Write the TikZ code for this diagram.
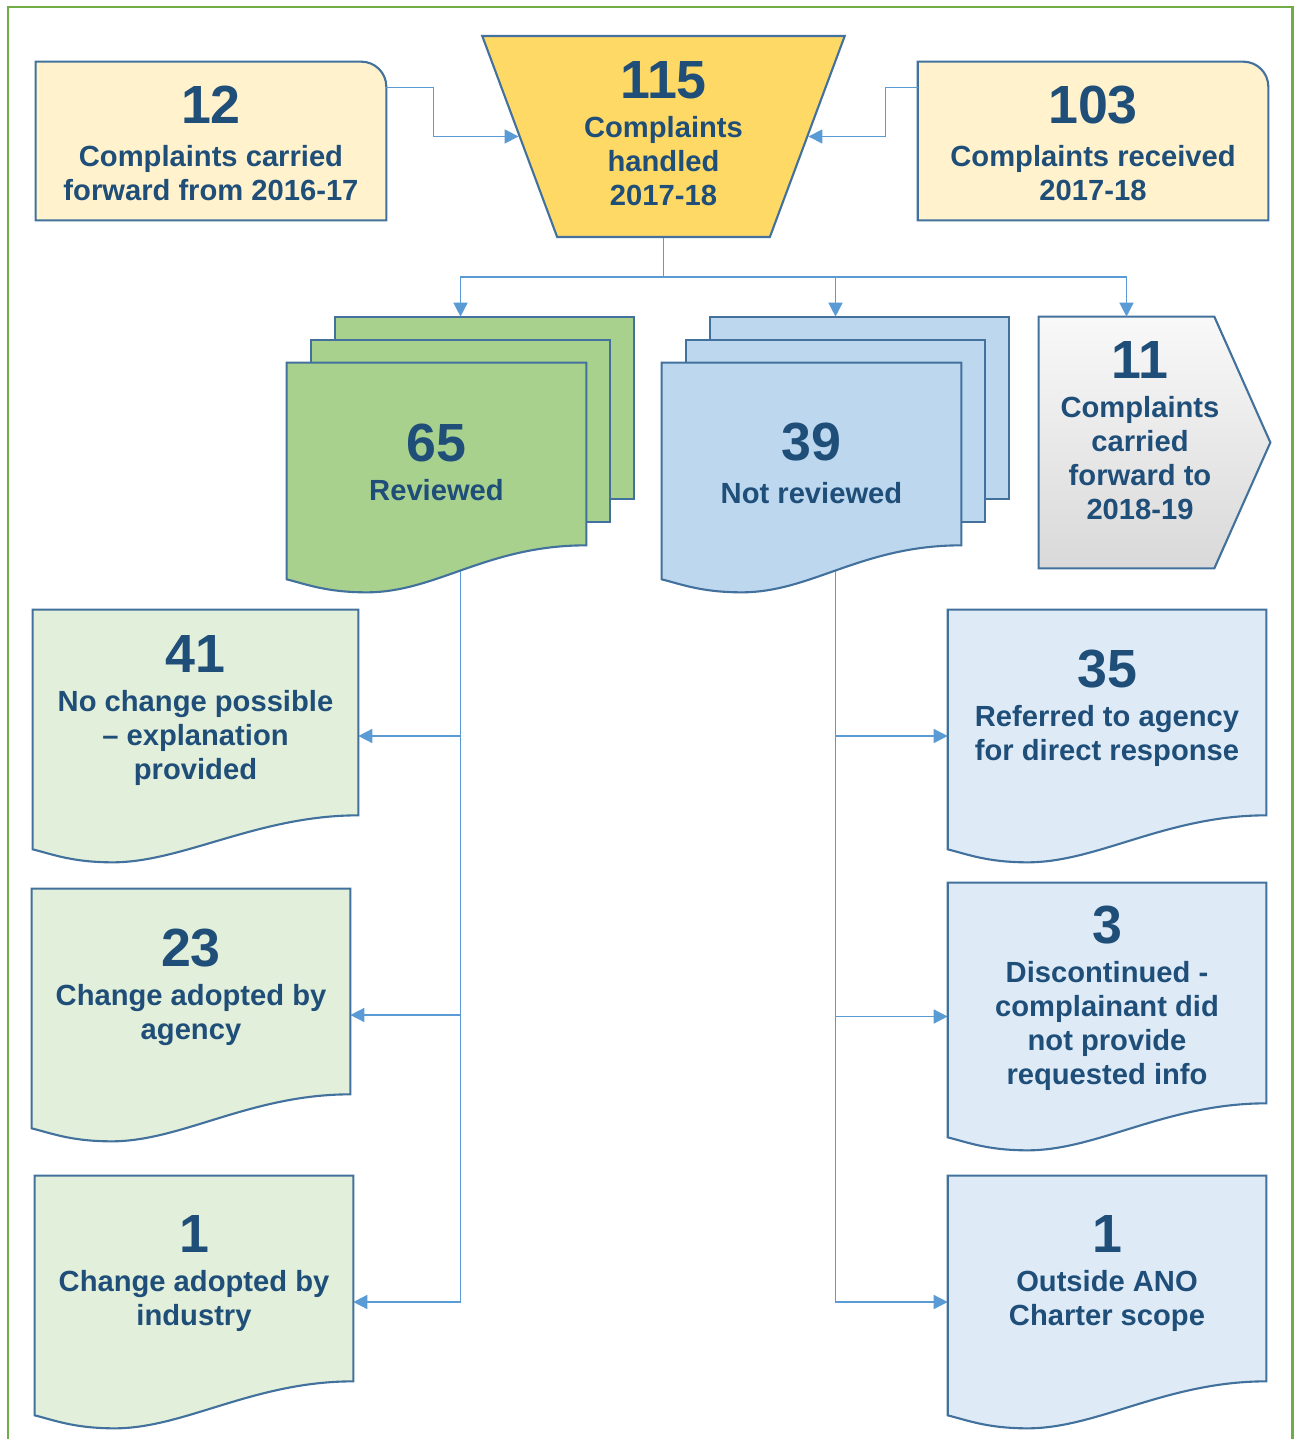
\documentclass[tikz,border=0pt]{standalone}
\usepackage{fontspec}
\setmainfont{Liberation Sans}
\usetikzlibrary{shapes.geometric,calc,backgrounds,arrows.meta}
\pgfdeclarelayer{lines}
\pgfsetlayers{lines,background,main}

\definecolor{inkblue}{HTML}{1F4E79}
\definecolor{edgeblue}{HTML}{41719C}
\definecolor{arrowblue}{HTML}{5B9BD5}
\definecolor{framegreen}{HTML}{70AD47}
\definecolor{cream}{HTML}{FFF2CC}
\definecolor{gold}{HTML}{FFD966}
\definecolor{midgreen}{HTML}{A9D18E}
\definecolor{palegreen}{HTML}{E2EFDA}
\definecolor{midblue}{HTML}{BDD7EE}
\definecolor{paleblue}{HTML}{DEEBF7}

\tikzset{
  txt/.style={align=center, text=inkblue, inner sep=0pt,
    font=\bfseries\fontsize{16.6}{19.3}\selectfont},
  sheet/.style={txt, minimum width=#1, minimum height=4.1cm},
  shapeline/.style={draw=edgeblue, line width=1.2pt},
  arr/.style={draw=arrowblue, line width=0.85pt, -{Triangle[length=8pt,width=8pt]}}
}
% big figure line; optional extra height on top pushes the text down
\newcommand\bignum[3][0pt]{{\fontsize{30.6}{30.6}\selectfont\rule{0pt}{\dimexpr21.9pt+#1\relax}#2}\\[#3]}
% extra depth under the last line pushes the text up
\newcommand\lowpad[1]{\rule[-#1]{0pt}{#1}}
% document outline (wavy bottom) hung on a node
\newcommand\docshape[2]{%
  \path[shapeline, fill=#2] (#1.north west) -- (#1.north east) -- (#1.south east)
    .. controls +(-100,0) and +(70,0) .. ($(#1.south west)+(80,47)$)
    .. controls +(-40,0) and +(20,5) .. ($(#1.south west)+(0,34)$) -- cycle;}
\newcommand\stackshape[2]{%
  \path[shapeline, fill=#2] ($(#1.south west)+(48,-46)$) rectangle ($(#1.north east)+(48,-46)$);
  \path[shapeline, fill=#2] ($(#1.south west)+(24,-23)$) rectangle ($(#1.north east)+(24,-23)$);
  \docshape{#1}{#2}}

\begin{document}
\begin{tikzpicture}[x=0.02cm, y=-0.02cm]
\useasboundingbox (0,0) rectangle (1295,1439);
\draw[framegreen, line width=1.7pt] (8,7) rectangle (1292,1460);

% top row
\node[txt, minimum width=7cm, minimum height=3.16cm] (cf) at (211,141)
  {\bignum[2pt]{12}{5pt}Complaints carried\\forward from 2016-17};
\node[txt, minimum width=7cm, minimum height=3.16cm] (rcv) at (1093,141)
  {\bignum[2pt]{103}{5pt}Complaints received\\2017-18};
\node[txt, trapezium, trapezium stretches=true, shape border rotate=180,
  trapezium left angle=70, trapezium right angle=70,
  minimum width=7.26cm, minimum height=4.02cm,
  shapeline, fill=gold] (hand) at (663.5,136.5)
  {\bignum{115}{3pt}Complaints\\handled\\2017-18\lowpad{4.6pt}};

% second row
\node[txt, minimum width=5.98cm, minimum height=3.64cm] (rev) at (436.5,454)
  {\bignum[9pt]{65}{3pt}Reviewed};
\node[txt, minimum width=5.98cm, minimum height=3.64cm] (nrev) at (811.5,454)
  {\bignum[10pt]{39}{5pt}Not reviewed};
\node[minimum width=3.5cm, minimum height=5.02cm, inner sep=0pt] (fwd) at (1126.5,442.5) {};
\node[txt] (fwdtxt) at ($(fwd.center)+(13.5,-13)$)
  {\bignum{11}{3pt}Complaints\\carried\\forward to\\2018-19};
\coordinate (revtop) at ($(rev.north)+(24,-46)$);
\coordinate (revout) at ($(rev.center)+(24,0)$);
\coordinate (nrevtop) at ($(nrev.north)+(24,-46)$);
\coordinate (nrevout) at ($(nrev.center)+(24,0)$);

% outcomes
\node[sheet=6.5cm] (nochg) at (195.5,712.5)
  {\bignum{41}{3pt}No change possible\\– explanation\\provided\lowpad{6.9pt}};
\node[sheet=6.36cm] (agency) at (191,991.5)
  {\bignum{23}{3pt}Change adopted by\\agency\lowpad{9.1pt}};
\node[sheet=6.36cm] (industry) at (194,1278.5)
  {\bignum{1}{3pt}Change adopted by\\industry\lowpad{10.3pt}};
\node[sheet=6.36cm] (referred) at (1107,712.5)
  {\bignum{35}{3pt}Referred to agency\\for direct response\lowpad{9.1pt}};
\node[sheet=6.36cm, minimum height=4.4cm] (discont) at (1107,993)
  {\bignum[5.6pt]{3}{3pt}Discontinued -\\complainant did\\not provide\\requested info};
\node[sheet=6.36cm] (outside) at (1107,1278.5)
  {\bignum{1}{3pt}Outside ANO\\Charter scope\lowpad{10.3pt}};

\begin{pgfonlayer}{background}
  \path[shapeline, fill=cream] (cf.south west) -- (cf.north west)
    -- ([xshift=-0.5cm]cf.north east) arc[start angle=90, end angle=0, radius=0.5cm]
    -- (cf.south east) -- cycle;
  \path[shapeline, fill=cream] (rcv.south west) -- (rcv.north west)
    -- ([xshift=-0.5cm]rcv.north east) arc[start angle=90, end angle=0, radius=0.5cm]
    -- (rcv.south east) -- cycle;
  \stackshape{rev}{midgreen}
  \stackshape{nrev}{midblue}
  \path[shapeline, top color=gray!5, bottom color=gray!30]
    (fwd.north west) -- (fwd.north east) -- ($(fwd.east)+(56,0)$)
    -- (fwd.south east) -- (fwd.south west) -- cycle;
  \docshape{nochg}{palegreen}
  \docshape{agency}{palegreen}
  \docshape{industry}{palegreen}
  \docshape{referred}{paleblue}
  \docshape{discont}{paleblue}
  \docshape{outside}{paleblue}
\end{pgfonlayer}

% connectors
\draw[arr] ([yshift=-0.52cm]cf.north east) -- ++(47,0) |- (hand.west);
\draw[arr] ([yshift=-0.52cm]rcv.north west) -- ++(-32,0) |- (hand.east);
\draw[arr] (hand.south) -- ++(0,39) -| (revtop);
\draw[arr] (hand.south) -- ++(0,39) -| (nrevtop);
\draw[arr] (hand.south) -- ++(0,39) -| (fwd.north);

\begin{pgfonlayer}{lines}
  \draw[arr] (revout) |- ([yshift=-0.47cm]nochg.east);
  \draw[arr] (revout) |- ([yshift=-0.47cm]agency.east);
  \draw[arr] (revout) |- ([yshift=-0.47cm]industry.east);
  \draw[arr] (nrevout) |- ([yshift=-0.47cm]referred.west);
  \draw[arr] (nrevout) |- ([yshift=-0.47cm]discont.west);
  \draw[arr] (nrevout) |- ([yshift=-0.47cm]outside.west);
\end{pgfonlayer}
\end{tikzpicture}
\end{document}
